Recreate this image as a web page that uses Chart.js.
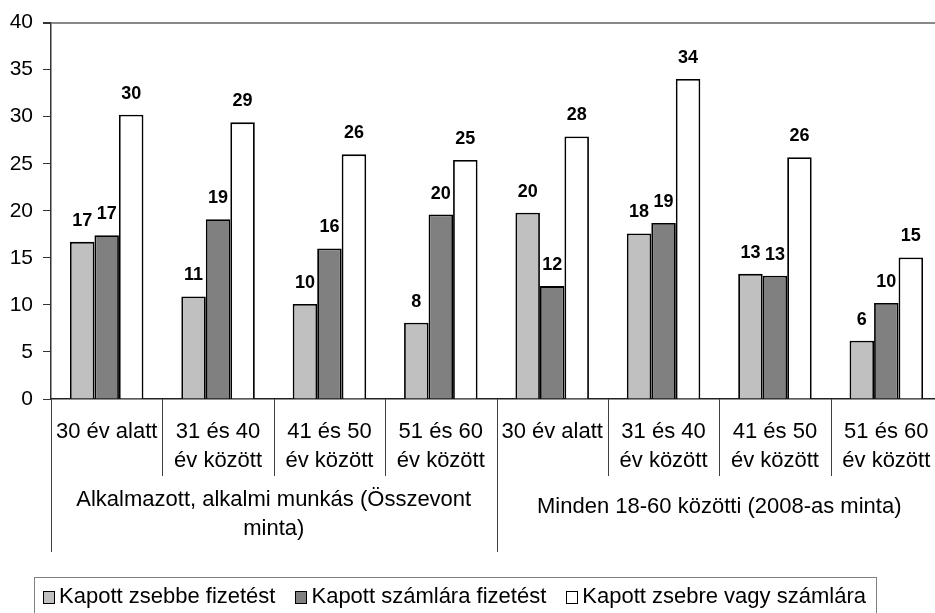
<!DOCTYPE html>
<html>
<head>
<meta charset="utf-8">
<script src="https://cdn.jsdelivr.net/npm/chart.js@4/dist/chart.umd.min.js"></script>
<style>
    html, body { margin: 0; padding: 0; background: #fff; }
    #wrap { position: relative; width: 935px; height: 613px; overflow: hidden; }
    #legend {
        position: absolute; left: 34px; top: 577px; width: 843px; height: 60px;
        border: 1px solid #808080; box-sizing: border-box;
        padding: 6px 0 0 8px;
        font: 22px "Liberation Sans", Arial, sans-serif; line-height: 24px; color: #000;
        white-space: nowrap;
    }
    #legend span.item { display: inline-block; margin-right: 20px; }
    #legend i { display: inline-block; width: 10px; height: 11px; border: 1px solid #000; margin-right: 4px; vertical-align: -1px; }
</style>
</head>
<body>
<div id="wrap">
    <canvas id="chart" width="945" height="613"></canvas>
    <div id="legend"></div>
</div>
<script>
// Datos
const ageLabels = [['30 év alatt'], ['31 és 40', 'év között'], ['41 és 50', 'év között'], ['51 és 60', 'év között']];
const groupLabels = [['Alkalmazott, alkalmi munkás (Összevont', 'minta)'], ['Minden 18-60 közötti (2008-as minta)']];
const categories = groupLabels.flatMap(() => ageLabels);

const seriesNames = ['Kapott zsebbe fizetést', 'Kapott számlára fizetést', 'Kapott zsebre vagy számlára'];
const zsebbe = [16.7, 10.9, 10.1, 8.1, 19.8, 17.6, 13.3, 6.2];
const szamlara = [17.4, 19.1, 16.0, 19.6, 12.0, 18.7, 13.1, 10.2];
const zsebreVagy = [30.2, 29.4, 26.0, 25.4, 27.9, 34.0, 25.7, 15.05];
const yTicks = [0, 5, 10, 15, 20, 25, 30, 35, 40];

const colors = ['#c0c0c0', '#808080', '#ffffff'];
const FONT = '"Liberation Sans", Arial, sans-serif';

// Etiquetas de valores sobre las barras
const valueLabels = {
    id: 'valueLabels',
    afterDatasetsDraw(chart) {
        const ctx = chart.ctx;
        ctx.save();
        ctx.font = 'bold 18px ' + FONT;
        ctx.fillStyle = '#000';
        ctx.textAlign = 'center';
        ctx.textBaseline = 'middle';
        chart.data.datasets.forEach((ds, di) => {
            chart.getDatasetMeta(di).data.forEach((bar, i) => {
                ctx.fillText(Math.round(ds.data[i]), bar.x, bar.y - 21);
            });
        });
        ctx.restore();
    }
};

// Eje X de dos niveles
const groupAxis = {
    id: 'groupAxis',
    afterDraw(chart) {
        const ctx = chart.ctx;
        const area = chart.chartArea;
        const n = categories.length;
        const catW = (area.right - area.left) / n;
        ctx.save();
        ctx.strokeStyle = '#404040';
        ctx.lineWidth = 1;
        for (let i = 0; i <= n; i++) {
            const x = Math.round(area.left + i * catW) + 0.5;
            ctx.beginPath();
            ctx.moveTo(x, area.bottom);
            ctx.lineTo(x, i % ageLabels.length === 0 ? 552 : 476);
            ctx.stroke();
        }
        ctx.fillStyle = '#000';
        ctx.textAlign = 'center';
        ctx.textBaseline = 'middle';
        ctx.font = '22px ' + FONT;
        categories.forEach((lines, i) => {
            const cx = chart.scales.x.getPixelForValue(i);
            lines.forEach((t, li) => ctx.fillText(t, cx, 432 + li * 29));
        });
        groupLabels.forEach((lines, g) => {
            const x0 = area.left + g * ageLabels.length * catW;
            const cx = x0 + ageLabels.length * catW / 2;
            const y0 = lines.length > 1 ? 500 : 507;
            lines.forEach((t, li) => ctx.fillText(t, cx, y0 + li * 29));
        });
        ctx.restore();
    }
};

const ctx = document.getElementById('chart').getContext('2d');
new Chart(ctx, {
    type: 'bar',
    data: {
        labels: categories,
        datasets: [zsebbe, szamlara, zsebreVagy].map((d, i) => ({
            label: seriesNames[i],
            data: d,
            backgroundColor: colors[i],
            borderColor: '#000',
            borderWidth: 1.8,
            borderSkipped: 'bottom',
            categoryPercentage: 0.66,
            barPercentage: 1.0
        }))
    },
    options: {
        responsive: false,
        animation: false,
        devicePixelRatio: 1,
        layout: { padding: { top: 19, right: 3, left: 0, bottom: 0 } },
        plugins: { legend: { display: false }, tooltip: { enabled: false } },
        scales: {
            x: {
                ticks: { display: false },
                grid: { display: true, drawOnChartArea: false, drawTicks: false },
                border: { display: true, color: '#222', width: 1.5 },
                afterFit: s => { s.height = 214; }
            },
            y: {
                min: 0, max: 40,
                afterBuildTicks: s => { s.ticks = yTicks.map(v => ({ value: v })); },
                ticks: { font: { family: FONT, size: 21 }, color: '#000', padding: 10 },
                grid: {
                    color: c => c.tick && c.tick.value === 40 ? '#888' : 'rgba(0,0,0,0)',
                    lineWidth: c => c.tick && c.tick.value === 40 ? 2 : 1,
                    tickColor: '#333',
                    tickLength: 8
                },
                border: { display: true, color: '#333', width: 1.5 },
                afterFit: s => { s.width = 51; }
            }
        }
    },
    plugins: [valueLabels, groupAxis]
});

// Leyenda
document.getElementById('legend').innerHTML = seriesNames.map((name, i) =>
    `<span class="item"><i style="background:${colors[i]}"></i>${name}</span>`
).join('');
</script>
</body>
</html>
